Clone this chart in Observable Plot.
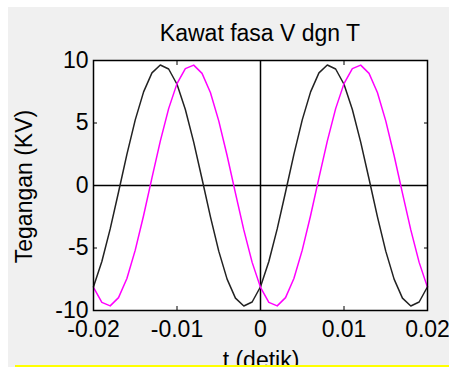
<!DOCTYPE html>
<html><head><meta charset="utf-8">
<script src="https://cdn.jsdelivr.net/npm/d3@7"></script>
<script src="https://cdn.jsdelivr.net/npm/@observablehq/plot@0.6"></script>
<style>
html,body{margin:0;padding:0;background:#fff;width:449px;height:367px;overflow:hidden;}
#wrap{position:relative;width:449px;height:367px;font-family:"Liberation Sans",Arial,sans-serif;color:#000;}
#bg{position:absolute;left:8px;top:7px;right:0;bottom:0;background:#f0f0f0;}
#chart{position:absolute;left:0;top:0;}
.lbl{position:absolute;font-size:23px;line-height:23px;white-space:nowrap;text-align:center;}
#title{left:60px;width:400px;top:21.5px;}
#xlab{left:161px;width:200px;top:349px;}
#ylab{left:-126.5px;width:300px;top:174.5px;transform:rotate(-90deg);}
#yb{position:absolute;left:15px;top:365px;width:434px;height:2px;background:#ffff00;}
</style>
</head><body>
<div id="wrap">
  <div id="bg"></div>
  <div id="chart"></div>
  <div class="lbl" id="title">Kawat fasa V dgn T</div>
  <div class="lbl" id="ylab">Tegangan (KV)</div>
  <div class="lbl" id="xlab">t (detik)</div>
  <div id="yb"></div>
</div>
<script>
// time samples (s)
const t = [-0.020,-0.019,-0.018,-0.017,-0.016,-0.015,-0.014,-0.013,-0.012,-0.011,
           -0.010,-0.009,-0.008,-0.007,-0.006,-0.005,-0.004,-0.003,-0.002,-0.001,
            0.000, 0.001, 0.002, 0.003, 0.004, 0.005, 0.006, 0.007, 0.008, 0.009,
            0.010, 0.011, 0.012, 0.013, 0.014, 0.015, 0.016, 0.017, 0.018, 0.019, 0.020];
// black series (kV)
const vBlack = [-8.10,-6.08,-3.47,-0.52,2.49,5.25,7.49,9.01,9.64,9.32,
                 8.10,6.08,3.47,0.52,-2.49,-5.25,-7.49,-9.01,-9.64,-9.32,
                -8.10,-6.08,-3.47,-0.52,2.49,5.25,7.49,9.01,9.64,9.32,
                 8.10,6.08,3.47,0.52,-2.49,-5.25,-7.49,-9.01,-9.64,-9.32,-8.10];
// magenta series (kV)
const vMagenta = [-8.15,-9.35,-9.63,-8.97,-7.44,-5.17,-2.40,0.61,3.55,6.15,
                   8.15,9.35,9.63,8.97,7.44,5.17,2.40,-0.61,-3.55,-6.15,
                  -8.15,-9.35,-9.63,-8.97,-7.44,-5.17,-2.40,0.61,3.55,6.15,
                   8.15,9.35,9.63,8.97,7.44,5.17,2.40,-0.61,-3.55,-6.15,-8.15];
const xTicks = [-0.02,-0.01,0,0.01,0.02];
const xTickLabels = ["-0.02","-0.01","0","0.01","0.02"];
const yTicks = [-10,-5,0,5,10];
const yTickLabels = ["-10","-5","0","5","10"];

const rowsBlack = t.map((x,i)=>({t:x, v:vBlack[i]}));
const rowsMagenta = t.map((x,i)=>({t:x, v:vMagenta[i]}));

const font = "'Liberation Sans', Arial, sans-serif";
const chart = Plot.plot({
  width: 449, height: 367,
  marginLeft: 93, marginRight: 22, marginTop: 60, marginBottom: 57,
  x: {domain: [-0.02, 0.02]},
  y: {domain: [-10, 10]},
  style: {background: "none", fontFamily: font, color: "#000", overflow: "visible"},
  marks: [
    Plot.frame({fill: "white", stroke: "none"}),
    Plot.ruleX([0], {stroke: "#000", strokeWidth: 1.5}),
    Plot.ruleY([0], {stroke: "#000", strokeWidth: 1.5}),
    Plot.line(rowsBlack, {x: "t", y: "v", stroke: "#222", strokeWidth: 1.5}),
    Plot.line(rowsMagenta, {x: "t", y: "v", stroke: "#ff00ff", strokeWidth: 1.5}),
    Plot.frame({stroke: "#000", strokeWidth: 1.5}),
    Plot.axisX(xTicks, {anchor: "bottom", tickSize: -4, fill: "none", stroke: "#000", label: null}),
    Plot.axisX(xTicks, {anchor: "top", tickSize: -4, fill: "none", stroke: "#000", label: null}),
    Plot.axisY(yTicks, {anchor: "left", tickSize: -4, fill: "none", stroke: "#000", label: null}),
    Plot.axisY(yTicks, {anchor: "right", tickSize: -4, fill: "none", stroke: "#000", label: null}),
    Plot.axisX(xTicks, {anchor: "bottom", tickSize: 0, tickPadding: 10, fontSize: 23, fill: "#000",
      tickFormat: d => xTickLabels[xTicks.indexOf(d)], label: null}),
    Plot.axisY(yTicks, {anchor: "left", tickSize: 0, tickPadding: 5, fontSize: 23, fill: "#000",
      tickFormat: d => yTickLabels[yTicks.indexOf(d)], label: null})
  ]
});
document.getElementById("chart").appendChild(chart);
</script>
</body></html>
